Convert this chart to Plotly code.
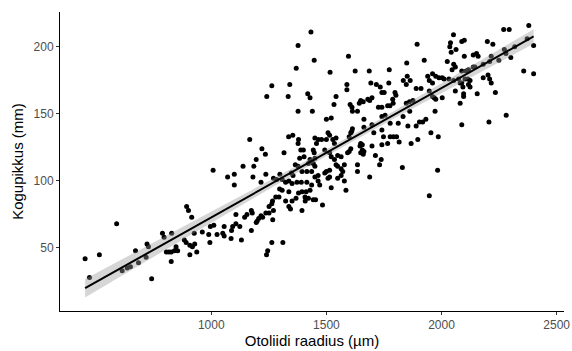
import numpy as np
import plotly.graph_objects as go

# Otolith radius (µm) and fish length (mm)
otolith_radius = [
    452, 471, 514, 589, 671, 741, 613, 635, 649, 684, 717, 721, 727, 788, 795, 828, 805, 816, 826, 840,
    854, 847, 826, 883, 891, 907, 918, 907, 893, 901, 915,
    937, 928, 926, 961, 989, 994, 1011, 996, 1025, 1050, 1056, 1056, 1088, 1093, 1086, 1107, 1107, 1124, 1131,
    1145, 1155, 1174, 1178, 1174, 1195, 1199, 1206, 1216, 1223, 1237, 1251, 1263, 1251, 1266, 1270, 1267, 1263,
    1311, 1245, 1240, 1337, 1344, 1351, 1323, 1394, 1408,
    1377, 1008, 1167, 1220, 1235, 1195, 1185, 1138, 1100, 1071, 1100, 1181, 1216, 1237, 1270, 1284, 1298, 1308,
    1316, 1336, 1354, 1379, 1377, 1389, 1400, 1384, 1403, 1365, 1377, 1394, 1415, 1422, 1429, 1348, 1355, 1337,
    1351, 1323, 1372, 1391, 1415, 1297, 1308, 1337, 1379, 1394, 1412, 1429, 1280, 1294, 1407, 1422, 1368,
    1433, 1377, 1369, 1263, 1341, 1241, 1334, 1419, 1429, 1447, 1596, 1894, 1516, 1625, 1686, 1773, 1849, 1925,
    1693, 1717, 1734, 1771, 1834, 1851, 1864, 1847, 1589, 1589, 1542, 1533, 1890, 1911, 1940, 1741, 1751, 1798,
    1802, 1788, 1790, 1776, 1698, 1688, 1680, 1649, 1660, 1643, 1603, 1611, 1726, 1741, 1766, 1847, 1861, 1876,
    2379, 2270, 2294, 2400, 2052, 2088, 2099, 2039, 2036, 2199, 2223, 2063, 2042, 2099, 2138, 2152, 2159, 2216,
    2273, 2280, 2318, 2372, 2025, 2053, 2060, 2046, 2088, 2107, 2117, 2138, 2145, 2181, 2209, 2249, 2301, 1961,
    1975, 1989, 2003, 2011, 2032, 2053, 2074, 2081, 2102, 2114, 2124, 2181, 2202, 2209, 2216, 2088, 2093, 2117,
    2124, 2060, 2096, 2096, 2155, 2234, 2081, 2357, 2400, 1947, 1961, 1975, 2003, 1961, 1947, 1968,
    1439, 1500, 1521, 1613, 1635, 1663, 1741, 1755, 1698, 1777, 1812, 1833, 1862, 1854, 1890, 1904, 1918, 1450,
    1465, 1457, 1507, 1514, 1479, 1500, 1528, 1535, 1542, 1613, 1610, 1606, 1599, 1663, 1706, 1741, 1748, 1777,
    1791, 1805, 1816, 1868, 1897, 1932, 1649, 1656, 1646, 1656, 1663, 1649, 1660, 1606, 1599, 1592, 1698, 1713,
    1741, 1766, 1738, 1731, 1443, 1447, 1450, 1493, 1514, 1521, 1549, 1564, 1535, 1578, 1564, 1542, 1549, 1635,
    1635, 1571, 1564, 1549, 1578, 1688, 1830, 1443, 1450, 1436, 1450, 1464, 1493, 1500, 1514, 1507, 1514, 1464,
    1471, 1521, 1585, 1436,
    1972, 2088, 2206, 2281, 1954, 1986, 1983, 1947,
    1483, 1443, 1453,
]
fish_length = [
    42, 28, 45, 68, 48, 27, 33, 35, 36, 39, 43, 53, 51, 61, 58, 61, 47, 47, 47, 48,
    48, 51, 40, 56, 54, 52, 51, 45, 81, 78, 73,
    47, 53, 61, 62, 60, 54, 67, 66, 60, 61, 59, 66, 63, 66, 57, 68, 75, 66, 56,
    73, 75, 78, 76, 63, 69, 70, 72, 74, 73, 76, 76, 83, 81, 85, 78, 71, 54,
    54, 48, 45, 81, 79, 85, 85, 78, 85,
    152, 108, 131, 124, 120, 116, 111, 111, 105, 103, 97, 103, 99, 105, 102, 101, 105, 101,
    121, 133, 134, 131, 128, 123, 123, 117, 118, 112, 111, 107, 107, 113, 116, 106, 104, 100,
    98, 99, 99, 99, 99, 94, 93, 92, 91, 92, 92, 93, 88, 88, 88, 87, 87,
    211, 201, 184, 171, 172, 163, 163, 165, 162, 190, 193, 202, 181, 182, 182, 183, 188, 190,
    173, 172, 170, 173, 175, 178, 175, 172, 172, 168, 163, 157, 169, 169, 178, 166, 166, 166,
    164, 161, 158, 156, 162, 160, 161, 160, 159, 158, 157, 155, 155, 155, 156, 158, 159, 160,
    216, 213, 213, 201, 209, 204, 205, 203, 200, 204, 202, 198, 196, 193, 194, 195, 193, 193,
    198, 195, 200, 206, 189, 187, 185, 183, 182, 182, 183, 185, 185, 187, 189, 190, 192, 180,
    178, 177, 177, 176, 176, 175, 176, 173, 176, 176, 175, 177, 179, 176, 173, 173, 170, 172,
    170, 167, 165, 163, 165, 166, 158, 182, 180, 167, 163, 161, 162, 173, 175, 162,
    152, 146, 147, 152, 152, 146, 148, 149, 142, 143, 143, 148, 152, 141, 141, 144, 144, 132,
    131, 128, 136, 134, 131, 131, 131, 128, 132, 139, 137, 136, 133, 140, 136, 138, 133, 133,
    133, 133, 129, 128, 131, 146, 128, 127, 126, 123, 122, 121, 120, 124, 122, 121, 126, 119,
    127, 128, 116, 112, 123, 121, 117, 123, 121, 118, 119, 118, 116, 112, 109, 112, 111, 112,
    107, 107, 104, 102, 100, 103, 110, 113, 111, 107, 103, 104, 106, 107, 108, 102, 103, 100,
    97, 95, 93, 97,
    152, 142, 144, 149, 136, 133, 108, 89,
    82, 86, 86,
]

x_ticks = [1000, 1500, 2000, 2500]
y_ticks = [50, 100, 150, 200]

x_arr = np.array(otolith_radius, dtype=float)
y_arr = np.array(fish_length, dtype=float)

# linear fit with 95% confidence band (like geom_smooth(method = "lm"))
n = len(x_arr)
slope, intercept = np.polyfit(x_arr, y_arr, 1)
resid = y_arr - (intercept + slope * x_arr)
s = np.sqrt(np.sum(resid ** 2) / (n - 2))
xbar = x_arr.mean()
sxx = np.sum((x_arr - xbar) ** 2)
grid = np.linspace(x_arr.min(), x_arr.max(), 80)
fit = intercept + slope * grid
se = s * np.sqrt(1.0 / n + (grid - xbar) ** 2 / sxx)
tval = 1.966
upper = fit + tval * se
lower = fit - tval * se

fig = go.Figure()
fig.add_trace(go.Scatter(
    x=x_arr, y=y_arr, mode="markers",
    marker=dict(color="black", size=5, line=dict(width=0)),
    hoverinfo="skip", showlegend=False,
))
fig.add_trace(go.Scatter(
    x=np.concatenate([grid, grid[::-1]]), y=np.concatenate([upper, lower[::-1]]),
    fill="toself", fillcolor="rgba(153,153,153,0.4)", line=dict(width=0),
    mode="lines", hoverinfo="skip", showlegend=False,
))
fig.add_trace(go.Scatter(
    x=grid, y=fit, mode="lines", line=dict(color="black", width=2),
    hoverinfo="skip", showlegend=False,
))

axis_common = dict(
    showgrid=False, zeroline=False, showline=True, linecolor="black", linewidth=1,
    ticks="outside", ticklen=3, tickwidth=1, tickcolor="#333333",
    ticklabeloverflow="allow",
    tickfont=dict(family="Arial, Liberation Sans, sans-serif", size=12, color="#4D4D4D"),
)
fig.update_xaxes(
    range=[343, 2532], tickvals=x_ticks, ticktext=[str(v) for v in x_ticks],
    title=dict(text="Otoliidi raadius (µm)", standoff=4,
               font=dict(family="Arial, Liberation Sans, sans-serif", size=15, color="black")),
    **axis_common,
)
fig.update_yaxes(
    range=[3, 226], tickvals=y_ticks, ticktext=[str(v) for v in y_ticks],
    title=dict(text="Kogupikkus (mm)", standoff=6,
               font=dict(family="Arial, Liberation Sans, sans-serif", size=15, color="black")),
    **axis_common,
)
fig.update_layout(
    width=572, height=351,
    margin=dict(l=60, r=2, t=12, b=40),
    paper_bgcolor="white", plot_bgcolor="white",
    showlegend=False,
)
fig.write_html("out.html")
